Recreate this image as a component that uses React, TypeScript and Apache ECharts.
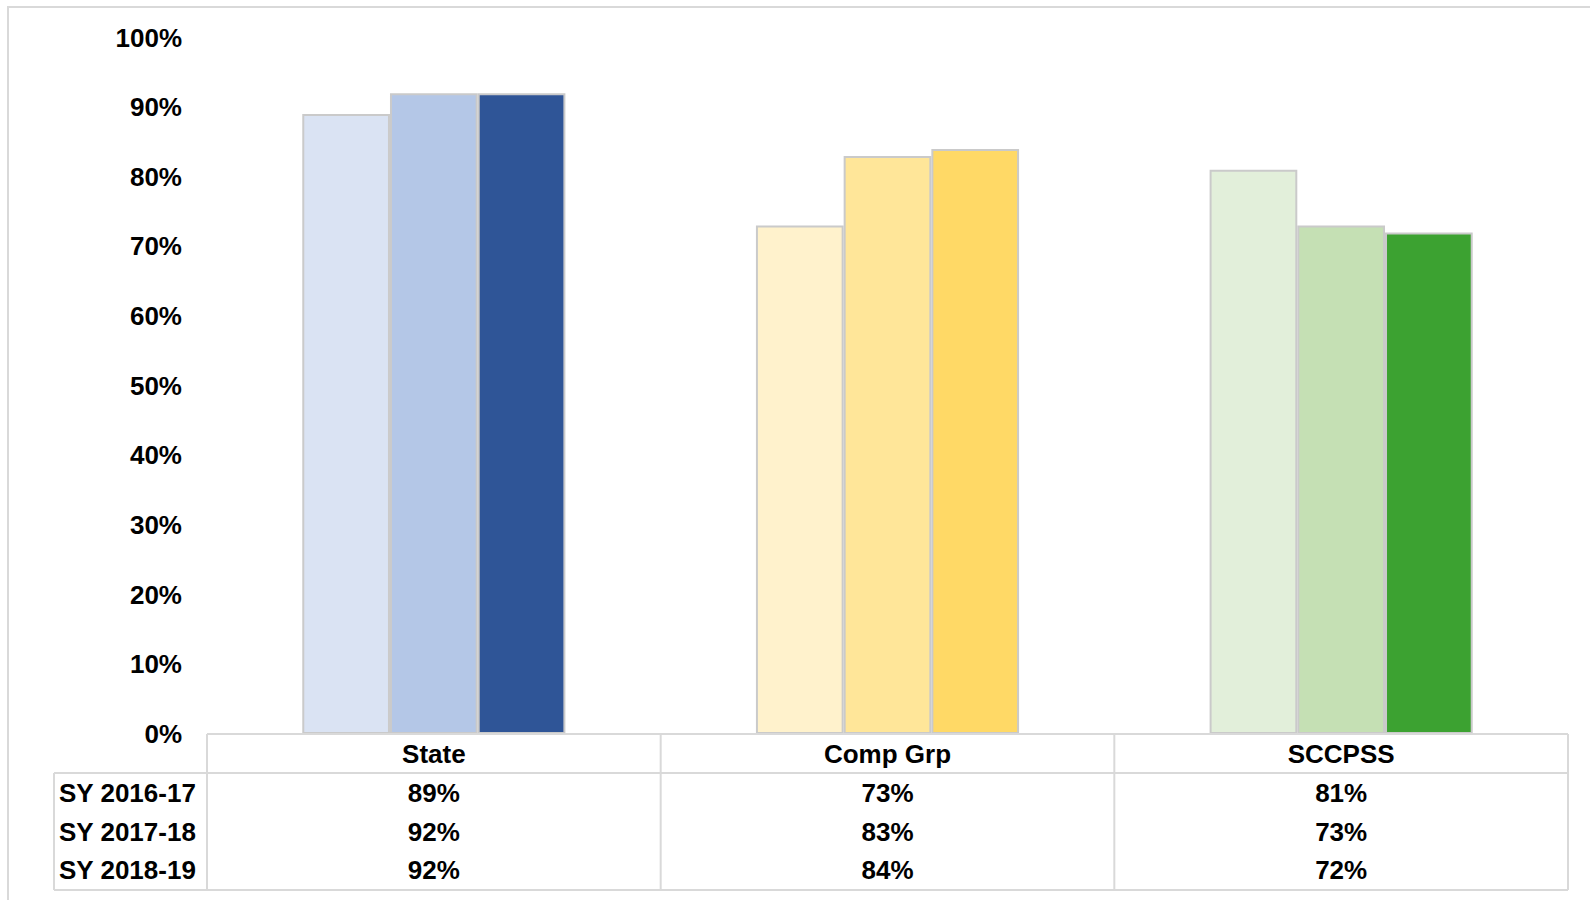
import React, { useEffect, useRef } from "react";
import * as echarts from "echarts";

const categories = ["State", "Comp Grp", "SCCPSS"];
const seriesNames = ["SY 2016-17", "SY 2017-18", "SY 2018-19"];
const values2016 = [89, 73, 81];
const values2017 = [92, 83, 73];
const values2018 = [92, 84, 72];
const yTicks = { min: 0, max: 100, interval: 10 };

// colour per [series][category]
const barColors = [
  ["#dae3f3", "#fff2cc", "#e2efda"],
  ["#b4c7e7", "#ffe699", "#c5e0b4"],
  ["#2f5597", "#ffd966", "#3ca231"],
];

const FONT = "'Liberation Sans', Arial, sans-serif";
const FS = 26;

export default function App() {
  const ref = useRef<HTMLDivElement>(null);
  useEffect(() => {
    if (!ref.current) return;
    const chart = echarts.init(ref.current, null, { renderer: "svg" });
    const W = 1590;
    const H = 900;
    const gridLeft = 207;
    const gridRight = 1568;
    const gridTop = 37.5;
    const axisY = 734;
    const rowH = 38.5;
    const leftColX = 54;
    const lineColor = "#d9d9d9";
    const allValues = [values2016, values2017, values2018];

    const colW = (gridRight - gridLeft) / categories.length;
    const headerBottom = axisY + 39;
    const tableBottom = 890;

    const graphics: any[] = [];
    graphics.push({
      type: "rect",
      shape: { x: 8, y: 7, width: W + 20, height: H + 20 },
      style: { fill: "none", stroke: lineColor, lineWidth: 2 },
      silent: true,
    });
    const line = (x1: number, y1: number, x2: number, y2: number) => ({
      type: "line",
      shape: { x1, y1, x2, y2 },
      style: { stroke: lineColor, lineWidth: 2 },
      silent: true,
      z: 10,
    });
    graphics.push(line(gridLeft, axisY, gridRight, axisY));
    graphics.push(line(leftColX, headerBottom, gridRight, headerBottom));
    graphics.push(line(leftColX, tableBottom, gridRight, tableBottom));
    graphics.push(line(leftColX, headerBottom, leftColX, tableBottom));
    for (let i = 0; i <= categories.length; i++) {
      const x = gridLeft + i * colW;
      graphics.push(line(x, axisY, x, tableBottom));
    }
    const txt = (text: string, x: number, y: number, align: string) => ({
      type: "text",
      x,
      y,
      style: {
        text,
        font: `bold ${FS}px ${FONT}`,
        fill: "#000",
        align,
        verticalAlign: "middle",
      },
      z: 11,
    });
    categories.forEach((c, i) => {
      graphics.push(txt(c, gridLeft + (i + 0.5) * colW, axisY + 20, "center"));
    });
    seriesNames.forEach((s, r) => {
      const cy = 793 + r * rowH;
      graphics.push(txt(s, leftColX + 5, cy, "left"));
      allValues[r].forEach((v, i) => {
        graphics.push(txt(`${v}%`, gridLeft + (i + 0.5) * colW, cy, "center"));
      });
    });

    chart.setOption({
      animation: false,
      backgroundColor: "#fff",
      grid: {
        left: gridLeft,
        right: W - gridRight,
        top: gridTop,
        bottom: H - axisY,
        containLabel: false,
      },
      xAxis: {
        type: "category",
        data: categories,
        axisLine: { show: false },
        axisTick: { show: false },
        axisLabel: { show: false },
      },
      yAxis: {
        type: "value",
        min: yTicks.min,
        max: yTicks.max,
        interval: yTicks.interval,
        axisLine: { show: false },
        axisTick: { show: false },
        splitLine: { show: false },
        axisLabel: {
          formatter: "{value}%",
          fontFamily: FONT,
          fontWeight: "bold",
          fontSize: FS,
          color: "#000",
          margin: 25,
        },
      },
      series: allValues.map((vals, r) => ({
        type: "bar",
        name: seriesNames[r],
        barGap: "0%",
        barCategoryGap: "42%",
        data: vals.map((v, i) => ({
          value: v,
          itemStyle: {
            color: barColors[r][i],
            borderColor: "#cacaca",
            borderWidth: 2,
          },
        })),
      })),
      graphic: graphics,
    });
    return () => chart.dispose();
  }, []);
  return (
    <div
      ref={ref}
      style={{ position: "fixed", left: 0, top: 0, width: 1590, height: 900 }}
    />
  );
}
